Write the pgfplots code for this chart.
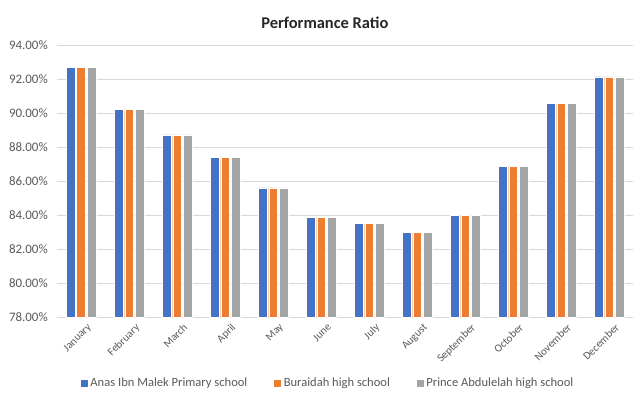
\documentclass[border=0pt]{standalone}
\usepackage{pgfplots}
\pgfplotsset{compat=1.18}
\usepackage{fontspec}
\setmainfont{Carlito}
\definecolor{sBlue}{HTML}{4472C4}
\definecolor{sOrange}{HTML}{ED7D31}
\definecolor{sGray}{HTML}{A5A5A5}
\definecolor{txt}{HTML}{595959}
\definecolor{gridc}{HTML}{D9D9D9}
\begin{document}
\begin{tikzpicture}[x=1bp,y=1bp]
\useasboundingbox (-57,-75) rectangle (576,317);
\begin{axis}[
  at={(0,0)}, anchor=south west,
  scale only axis, width=576bp, height=272bp,
  ybar, bar width=8.6bp,
  xmin=-0.5, xmax=11.5, ymin=78, ymax=94,
  ytick={78,80,...,94},
  xtick={0,...,11},
  xticklabels={January,February,March,April,May,June,July,August,September,October,November,December},
  x tick label style={rotate=45, anchor=north east, inner sep=1bp, font=\fontsize{11}{12}\selectfont, text=txt, yshift=-7bp, xshift=1bp},
  y tick label style={font=\fontsize{13}{14}\selectfont, text=txt, inner sep=1bp, xshift=-8bp},
  yticklabel={\pgfmathprintnumber[fixed,fixed zerofill,precision=2,assume math mode=true]{\tick}\%},
  major tick length=0pt,
  xmajorgrids=false, ymajorgrids=true,
  major grid style={draw=gridc, line width=0.8bp},
  axis x line*=bottom, axis y line*=left,
  x axis line style={draw=gridc, line width=0.8bp, -},
  y axis line style={draw=none},
  legend style={at={(0.47,-0.243)}, anchor=center, draw=none, fill=none,
    legend columns=3, font=\fontsize{12.6}{14}\selectfont, text=txt,
    /tikz/every even column/.append style={column sep=24bp}},
  legend image code/.code={\fill[#1] (0bp,-4bp) rectangle (8bp,4bp);},
  clip=false,
]
\addplot[fill=sBlue, draw=white, line width=0.4bp, bar shift=-10.5bp] coordinates {
  (0,92.70) (1,90.21) (2,88.72) (3,87.38) (4,85.60) (5,83.85)
  (6,83.49) (7,82.96) (8,83.98) (9,86.88) (10,90.55) (11,92.12)};
\addplot[fill=sOrange, draw=white, line width=0.4bp, bar shift=0bp] coordinates {
  (0,92.70) (1,90.21) (2,88.72) (3,87.38) (4,85.60) (5,83.85)
  (6,83.49) (7,82.96) (8,83.98) (9,86.88) (10,90.55) (11,92.12)};
\addplot[fill=sGray, draw=white, line width=0.4bp, bar shift=10.5bp] coordinates {
  (0,92.70) (1,90.21) (2,88.72) (3,87.38) (4,85.60) (5,83.85)
  (6,83.49) (7,82.96) (8,83.98) (9,86.88) (10,90.55) (11,92.12)};
\legend{Anas Ibn Malek Primary school, Buraidah high school, Prince Abdulelah high school}
\node[font=\bfseries\fontsize{16.5}{18}\selectfont, text=black!85] at (axis description cs:0.465,1.082) {Performance Ratio};
\end{axis}
\end{tikzpicture}
\end{document}
